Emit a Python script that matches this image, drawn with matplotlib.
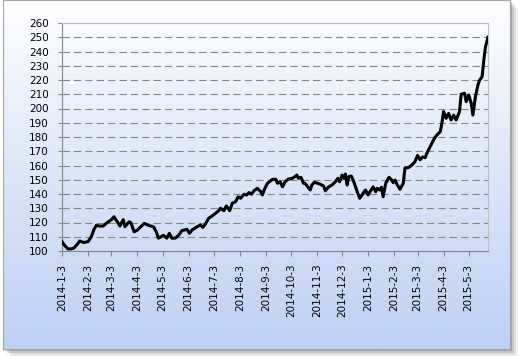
import matplotlib
matplotlib.use('Agg')
import matplotlib.pyplot as plt
from matplotlib.patches import Rectangle
from matplotlib.colors import LinearSegmentedColormap
import numpy as np
import pandas as pd

plt.rcParams['lines.scale_dashes'] = False
plt.rcParams['font.family'] = ['DejaVu Sans']

# values
dates = [
    '2014-01-03', '2014-01-06', '2014-01-10', '2014-01-14', '2014-01-17', '2014-01-21',
    '2014-01-24', '2014-01-29', '2014-02-03', '2014-02-07', '2014-02-10', '2014-02-13',
    '2014-02-17', '2014-02-21', '2014-02-26', '2014-03-03', '2014-03-06', '2014-03-10',
    '2014-03-13', '2014-03-17', '2014-03-19', '2014-03-24', '2014-03-26', '2014-03-30',
    '2014-04-03', '2014-04-07', '2014-04-11', '2014-04-16', '2014-04-22', '2014-04-25',
    '2014-04-28', '2014-04-30', '2014-05-04', '2014-05-08', '2014-05-11', '2014-05-14',
    '2014-05-18', '2014-05-22', '2014-05-26', '2014-06-01', '2014-06-04', '2014-06-07',
    '2014-06-13', '2014-06-17', '2014-06-20', '2014-06-23', '2014-06-27', '2014-07-01',
    '2014-07-05', '2014-07-09', '2014-07-11', '2014-07-15', '2014-07-18', '2014-07-22',
    '2014-07-25', '2014-07-29', '2014-08-01', '2014-08-04', '2014-08-08', '2014-08-11',
    '2014-08-14', '2014-08-17', '2014-08-20', '2014-08-24', '2014-08-28', '2014-08-30',
    '2014-09-01', '2014-09-05', '2014-09-11', '2014-09-15', '2014-09-17', '2014-09-20',
    '2014-09-23', '2014-09-26', '2014-09-30', '2014-10-05', '2014-10-10', '2014-10-12',
    '2014-10-15', '2014-10-18', '2014-10-20', '2014-10-23', '2014-10-26', '2014-10-28',
    '2014-10-31', '2014-11-04', '2014-11-07', '2014-11-11', '2014-11-13', '2014-11-17',
    '2014-11-21', '2014-11-25', '2014-11-28', '2014-11-30', '2014-12-03', '2014-12-05',
    '2014-12-07', '2014-12-09', '2014-12-11', '2014-12-14', '2014-12-17', '2014-12-21',
    '2014-12-24', '2014-12-27', '2014-12-28', '2014-12-31', '2015-01-03', '2015-01-06',
    '2015-01-09', '2015-01-12', '2015-01-14', '2015-01-17', '2015-01-19', '2015-01-21',
    '2015-01-24', '2015-01-28', '2015-01-31', '2015-02-02', '2015-02-04', '2015-02-07',
    '2015-02-10', '2015-02-14', '2015-02-16', '2015-02-20', '2015-02-24', '2015-02-28',
    '2015-03-03', '2015-03-06', '2015-03-09', '2015-03-12', '2015-03-15', '2015-03-19',
    '2015-03-23', '2015-03-26', '2015-03-30', '2015-04-01', '2015-04-03', '2015-04-06',
    '2015-04-09', '2015-04-12', '2015-04-15', '2015-04-18', '2015-04-22', '2015-04-24',
    '2015-04-28', '2015-04-30', '2015-05-03', '2015-05-06', '2015-05-08', '2015-05-11',
    '2015-05-14', '2015-05-16', '2015-05-19', '2015-05-21', '2015-05-23', '2015-05-26',
]
values = [
    106.5, 104.0, 101.5, 101.5, 102.0, 104.5,
    107.0, 106.0, 106.5, 110.0, 115.0, 118.0,
    117.5, 117.5, 120.0, 122.0, 124.0, 120.5,
    117.5, 122.0, 117.0, 120.5, 120.0, 113.5,
    114.7, 117.0, 119.4, 118.0, 117.0, 114.0,
    109.0, 109.6, 111.0, 109.0, 112.4, 109.0,
    109.0, 111.0, 114.3, 115.2, 112.4, 114.7,
    117.0, 118.2, 116.6, 119.0, 123.0, 124.6,
    126.4, 128.3, 130.0, 128.3, 131.6, 128.3,
    133.5, 134.6, 138.0, 137.0, 139.8, 139.3,
    141.0, 139.8, 142.3, 144.0, 141.6, 139.3,
    142.8, 147.5, 150.3, 150.3, 147.5, 148.6,
    145.0, 148.6, 150.5, 151.0, 153.3, 151.0,
    151.7, 147.5, 147.5, 145.0, 142.8, 146.3,
    148.2, 147.5, 146.8, 145.6, 142.3, 145.0,
    146.3, 148.6, 151.0, 148.6, 153.3, 151.0,
    154.0, 146.3, 152.2, 152.6, 148.6, 141.6,
    137.0, 139.3, 140.5, 142.8, 139.3, 142.3,
    145.0, 141.6, 144.0, 142.8, 144.7, 138.0,
    147.5, 151.7, 149.8, 148.0, 149.8, 146.3,
    143.3, 147.5, 158.3, 158.5, 160.2, 162.8,
    167.0, 164.0, 166.0, 165.5, 169.7, 174.4,
    179.0, 181.4, 183.7, 189.6, 197.8, 193.1,
    196.6, 191.9, 195.4, 191.9, 197.8, 210.0,
    210.7, 204.8, 209.5, 203.6, 195.4, 208.3,
    216.5, 220.0, 222.3, 234.0, 243.3, 250.0,
]
tick_labels = ['2014-1-3', '2014-2-3', '2014-3-3', '2014-4-3', '2014-5-3', '2014-6-3',
               '2014-7-3', '2014-8-3', '2014-9-3', '2014-10-3', '2014-11-3', '2014-12-3',
               '2015-1-3', '2015-2-3', '2015-3-3', '2015-4-3', '2015-5-3']
y_ticks = list(range(100, 261, 10))

W, H = 520, 356
fig = plt.figure(figsize=(W / 100, H / 100), dpi=100)
fig.patch.set_facecolor('white')


def box(x0, y0, x1, y1):
    # pixel box (top-left origin) -> figure fraction rect
    return [x0 / W, 1 - y1 / H, (x1 - x0) / W, (y1 - y0) / H]


# soft shadow of the chart area
for off, a in [(8, 0.08), (6, 0.12), (4, 0.2), (2, 0.3)]:
    r = box(3 + off, off, 510 + off, 349 + off)
    fig.patches.append(Rectangle((r[0], r[1]), r[2], r[3], transform=fig.transFigure,
                                 facecolor='#606060', alpha=a, edgecolor='none', zorder=0))

# gradient chart area
bg = fig.add_axes(box(3, 0, 510, 349), zorder=1)
cmap = LinearSegmentedColormap.from_list('bg', ['#bdd1f3', '#dbe6f9', '#ffffff'])
grad = np.linspace(0, 1, 256).reshape(-1, 1)
bg.imshow(grad, aspect='auto', cmap=cmap, origin='lower', extent=[0, 1, 0, 1])
bg.set_xticks([])
bg.set_yticks([])
for s in bg.spines.values():
    s.set_color('#a6a6a6')
    s.set_linewidth(0.8)

ax = fig.add_axes(box(62, 23, 488, 251), zorder=2)
ax.patch.set_alpha(0)

x = pd.to_datetime(dates)
ax.plot(x, values, color='black', lw=2.2, solid_joinstyle='round', zorder=3)

ax.set_ylim(100, 260)
ax.set_yticks(y_ticks)
ax.set_xlim(x[0], x[-1])
ax.set_xticks([pd.Timestamp(t) for t in tick_labels])
ax.set_xticklabels(tick_labels, rotation=90)

ax.yaxis.grid(True, color='#868686', lw=0.8, linestyle=(0, (5.3, 2.9)))
ax.set_axisbelow(True)

ax.spines['left'].set_color('#868686')
ax.spines['bottom'].set_color('#868686')
ax.spines['top'].set_color('#bfbfbf')
ax.spines['right'].set_color('#bfbfbf')
for s in ax.spines.values():
    s.set_linewidth(0.8)

ax.tick_params(axis='y', length=3, width=0.8, color='#868686', pad=6.5,
               labelsize=7.5, labelcolor='black')
ax.tick_params(axis='x', length=3.6, width=0.8, color='#868686', pad=5.5,
               labelsize=7.5, labelcolor='black')

fig.savefig('out.png', dpi=100, facecolor='white')
